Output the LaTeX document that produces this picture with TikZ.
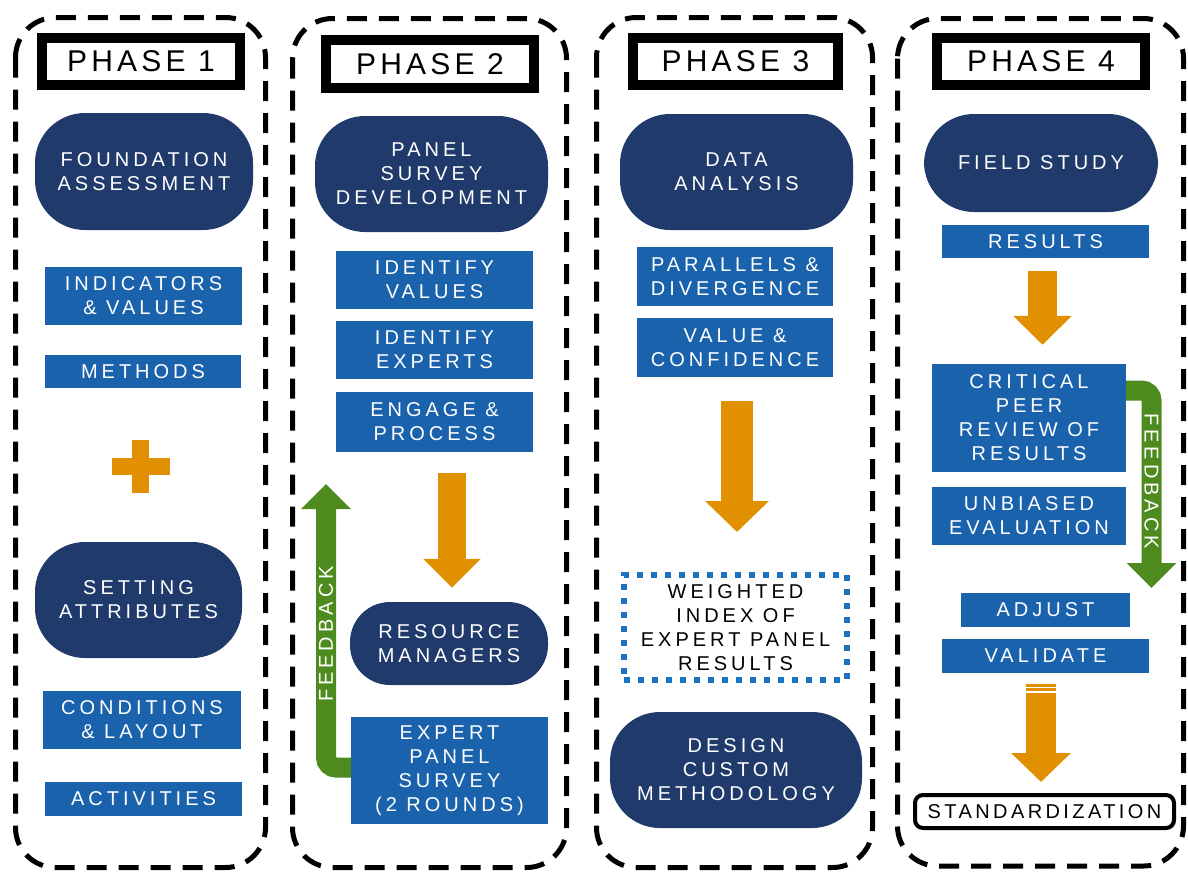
\documentclass[tikz,border=0pt]{standalone}
\usepackage{fontspec}
\usepackage{tikz}
\usetikzlibrary{arrows.meta}
\newfontfamily\lblfont[LetterSpace=20]{Liberation Sans}
\newfontfamily\phasefont[LetterSpace=14]{Liberation Sans}
\newfontfamily\stdfont[LetterSpace=17]{Liberation Sans}
\definecolor{navy}{RGB}{31,58,107}
\definecolor{taskblue}{RGB}{26,98,172}
\definecolor{amber}{RGB}{224,144,0}
\definecolor{leaf}{RGB}{78,139,31}
\definecolor{dotblue}{RGB}{30,112,193}
\tikzset{
    phaseframe/.style={draw=black,line width=5pt,dash pattern=on 20pt off 12pt,rounded corners=40pt},
    phasebox/.style={draw=black,line width=10pt,fill=white,inner sep=0pt,font=\phasefont\fontsize{30}{36}\selectfont},
    stage/.style={fill=navy,text=white,rounded corners=50pt,inner sep=0pt,align=center,font=\lblfont\fontsize{20}{24}\selectfont},
    taskbox/.style={fill=taskblue,text=white,inner sep=0pt,align=center,font=\lblfont\fontsize{20}{24}\selectfont},
    indexbox/.style={draw=dotblue,line width=6pt,dash pattern=on 6pt off 8pt,inner sep=0pt,align=center,font=\lblfont\fontsize{20}{24}\selectfont},
    goalbox/.style={draw=black,line width=4pt,rounded corners=8pt,fill=white,inner sep=0pt,font=\stdfont\fontsize{20}{24}\selectfont},
    blockarrow/.style n args={3}{draw=amber,line width=#1,-{Triangle[width=#2,length=#3]}},
    feedback/.style={draw=leaf,line width=20pt,rounded corners=10pt,-{Triangle[width=48pt,length=25pt]}},
    fbtext/.style={text=white,inner sep=0pt,font=\lblfont\fontsize{20}{24}\selectfont}
}
\begin{document}
\begin{tikzpicture}[x=1pt,y=-1pt]
            \useasboundingbox (0,0) rectangle (1188,873);
            \draw[phaseframe] (15.5,17.5) rectangle (265.5,867.5);
            \draw[phaseframe] (292.5,18.5) rectangle (566.5,867.5);
            \draw[phaseframe] (596.5,17.5) rectangle (872.5,867.5);
            \draw[phaseframe] (897.5,18.5) rectangle (1183.5,866);

            \node[phasebox,minimum width=198pt,minimum height=47pt] (ph1) at (141,61.5) {PHASE 1};
            \node[phasebox,minimum width=208pt,minimum height=48pt] (ph2) at (430,64) {PHASE 2};
            \node[phasebox,minimum width=205pt,minimum height=47pt] (ph3) at (735.5,61.5) {PHASE 3};
            \node[phasebox,minimum width=208pt,minimum height=47pt] (ph4) at (1041,61.5) {PHASE 4};

            \node[stage,minimum width=218pt,minimum height=117pt] (fnd) at (144,171.5) {FOUNDATION\\ASSESSMENT};
            \node[taskbox,minimum width=197pt,minimum height=58pt] (ind) at (143.5,296) {INDICATORS\\\& VALUES};
            \node[taskbox,minimum width=196pt,minimum height=33pt] (mth) at (143,371.5) {METHODS};
            \fill[amber] (112,458) rectangle (170,475);
            \fill[amber] (132,440) rectangle (149,493);
            \node[stage,minimum width=207pt,minimum height=116pt] (set) at (138.5,600) {SETTING\\ATTRIBUTES};
            \node[taskbox,minimum width=198pt,minimum height=58pt] (cnd) at (142,720) {CONDITIONS\\\& LAYOUT};
            \node[taskbox,minimum width=197pt,minimum height=34pt] (act) at (143.5,799) {ACTIVITIES};

            \node[stage,minimum width=233pt,minimum height=116pt] (psd) at (431.5,174) {PANEL\\SURVEY\\DEVELOPMENT};
            \node[taskbox,minimum width=197pt,minimum height=58pt] (idv) at (434.5,280) {IDENTIFY\\VALUES};
            \node[taskbox,minimum width=197pt,minimum height=58pt] (ide) at (434.5,350) {IDENTIFY\\EXPERTS};
            \node[taskbox,minimum width=197pt,minimum height=60pt] (eng) at (434.5,422) {ENGAGE \&\\PROCESS};
            \node[stage,rounded corners=40pt,minimum width=198pt,minimum height=83pt] (res) at (449,643.5) {RESOURCE\\MANAGERS};
            \node[taskbox,minimum width=197pt,minimum height=107pt] (exp) at (449.5,770.5) {EXPERT\\PANEL\\SURVEY\\(2 ROUNDS)};
            \draw[blockarrow={28pt}{56pt}{29pt}] ([xshift=17.5pt,yshift=-21pt]eng.south) -- ([xshift=3pt,yshift=14pt]res.north);
            \coordinate (fb2tip) at (326,484);
            \draw[feedback] ([yshift=3pt]exp.west) -| (fb2tip);
            \node[fbtext,rotate=90] (fb2lbl) at (326,634) {FEEDBACK};

            \node[stage,minimum width=233pt,minimum height=116pt] (dat) at (736.5,172) {DATA\\ANALYSIS};
            \node[taskbox,minimum width=196pt,minimum height=59pt] (par) at (735,276.5) {PARALLELS \&\\DIVERGENCE};
            \node[taskbox,minimum width=196pt,minimum height=59pt] (val) at (735,347.5) {VALUE \&\\CONFIDENCE};
            \node[indexbox,minimum width=223pt,minimum height=105pt] (wgt) at (735.5,627.5) {WEIGHTED\\INDEX OF\\EXPERT PANEL\\RESULTS};
            \node[stage,minimum width=252pt,minimum height=116pt] (dsg) at (736,770) {DESIGN\\CUSTOM\\METHODOLOGY};
            \draw[blockarrow={32pt}{62pt}{31pt}] ([xshift=2pt,yshift=-24pt]val.south) -- ([xshift=1.5pt,yshift=40pt]wgt.north);

            \node[stage,minimum width=234pt,minimum height=98pt] (fld) at (1041,163) {FIELD STUDY};
            \node[taskbox,minimum width=207pt,minimum height=33pt] (rsl) at (1045.5,241.5) {RESULTS};
            \node[taskbox,minimum width=194pt,minimum height=108pt] (crt) at (1029,418) {CRITICAL\\PEER\\REVIEW OF\\RESULTS};
            \node[taskbox,minimum width=194pt,minimum height=58pt] (unb) at (1029,516) {UNBIASED\\EVALUATION};
            \node[taskbox,minimum width=169pt,minimum height=34pt] (adj) at (1045.5,610) {ADJUST};
            \node[taskbox,minimum width=207pt,minimum height=34pt] (vld) at (1045.5,656) {VALIDATE};
            \node[goalbox,minimum width=259pt,minimum height=33pt] (std) at (1044.5,811.5) {STANDARDIZATION};
            \draw[blockarrow={29pt}{57pt}{29pt}] ([xshift=-3pt,yshift=-13pt]rsl.south) -- ([xshift=13.5pt,yshift=19pt]crt.north);
            \coordinate (fb4tip) at (1151.5,588);
            \draw[feedback] ([yshift=27.5pt]crt.east) -| (fb4tip);
            \node[fbtext,rotate=-90] (fb4lbl) at (1151.5,481) {FEEDBACK};
            \fill[amber] (1026,684) rectangle (1056,687);
            \fill[amber] (1026,688) rectangle (1056,691);
            \draw[blockarrow={30pt}{58pt}{29pt}] ([xshift=-4.5pt,yshift=-20pt]vld.south) -- ([xshift=-3.5pt,yshift=11pt]std.north);
\end{tikzpicture}
\end{document}
